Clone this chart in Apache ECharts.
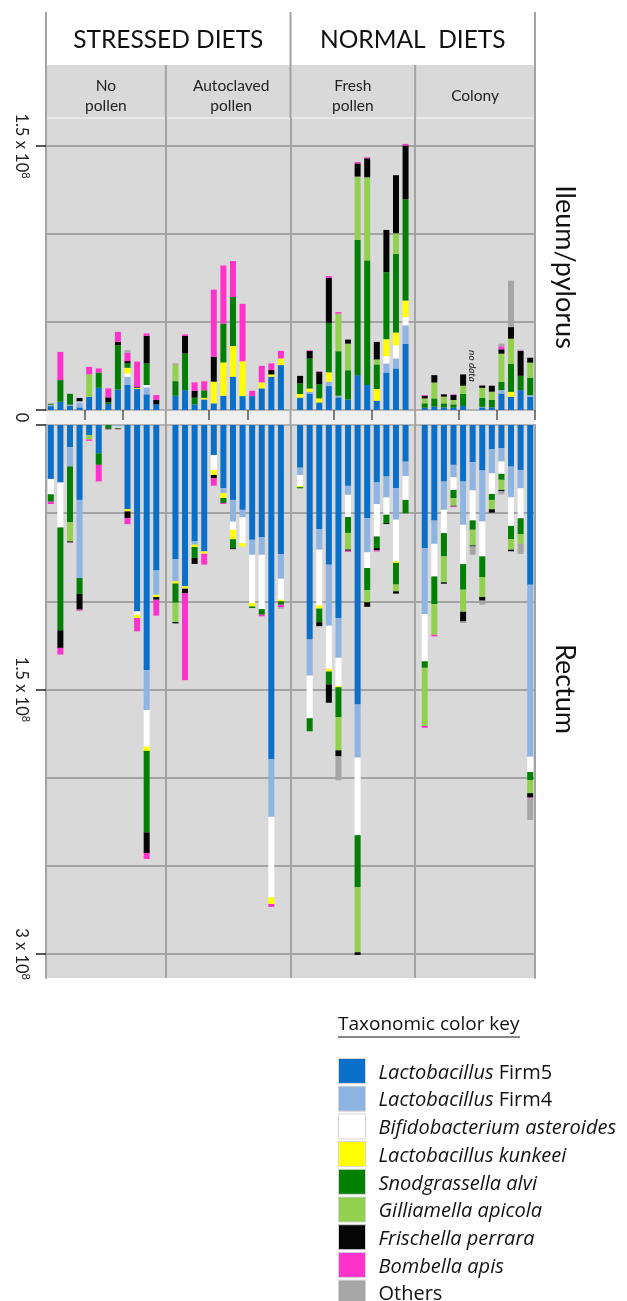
<!DOCTYPE html>
<html><head><meta charset="utf-8">
<script src="https://cdn.jsdelivr.net/npm/echarts@6/dist/echarts.min.js"></script>
<style>html,body{margin:0;padding:0;background:#fff}#c{width:627px;height:1301px}</style>
</head><body><div id="c"></div>
<script>
// ---------------- DATA (units: 10^6 cells) ----------------
const groups = ['No pollen', 'Autoclaved pollen', 'Fresh pollen', 'Colony'];
const groupLabels = ['No\npollen', 'Autoclaved\npollen', 'Fresh\npollen', 'Colony'];
const dietLabels = ['STRESSED DIETS', 'NORMAL  DIETS'];
const beesPerGroup = 12;
const taxa = ['Lactobacillus Firm5', 'Lactobacillus Firm4', 'Bifidobacterium asteroides', 'Lactobacillus kunkeei',
  'Snodgrassella alvi', 'Gilliamella apicola', 'Frischella perrara', 'Bombella apis', 'Others'];
const taxaItalic = ['Lactobacillus', 'Lactobacillus', 'Bifidobacterium asteroides', 'Lactobacillus kunkeei',
  'Snodgrassella alvi', 'Gilliamella apicola', 'Frischella perrara', 'Bombella apis', ''];
const taxaColors = ['#0a6fc8', '#8db4e2', '#ffffff', '#ffff00', '#037f03', '#92d050', '#050505', '#ff33cc', '#a6a6a6'];

// Ileum / pylorus (48 bees: 12 per group)
const ileumFirm5 = [2.2,4.7,2.5,1.5,7.5,12.6,3.4,11.7,14.2,12,8.9,3.2, 8.1,11.3,3.2,6,3.8,8.1,18.9,7.9,7.9,12.3,18.9,25.5, 7,9.4,4.3,13.6,7.2,6,19.8,14.2,5.3,21.3,23.6,37.7, 1.3,1.9,1.5,1.3,2.3,null,1.5,1.5,9.4,7.5,11.3,7.5];
const ileumFirm4 = [0.8,0,0.5,2.8,0,0,0,0,4.7,0,4,0, 0,0,0,0,0,0,0,0,0,0,0,0, 0,0.9,0,2.5,0.9,0,0,0,0,5.1,5.7,10.4, 0,0,0,0,0,null,0.3,0,1.9,0,0,0.9];
const ileumBifido = [0,0,0,0.6,0,0,0,0,1.9,0,1.3,0, 0,0,0,0,0,0,0,0,0,0,0,0, 0,0,0,0,0,0,0,0,0,4.2,7.5,4.7, 0,0,0,0,0,null,0,0,0,0,0,0];
const ileumKunkeei = [0,0,0,0,0,0,0,0,3.2,0.6,0,0, 0,0,0,0.9,12.3,18.9,17.4,19.8,0,3.4,1.3,3.8, 2.1,1.9,2.3,5.3,0,0,0,0,6.6,9.6,7.2,9.4, 0,0,0,0,0,null,0,0,0,2.8,0,0];
const ileumSnod = [0.5,12.3,6.2,0,0,8.7,1,25.1,2.5,0,12.3,0, 8.3,20.8,3.8,4.3,0,22.1,27.9,0,0,0,0,0, 6,17,8.1,28.1,25.3,16.6,76.8,70.8,14,38.1,44.7,57.5, 2.5,4.7,2.3,1.9,6.8,null,5.1,4.2,4.7,16,8.1,10];
const ileumGilli = [0,0,0,0,12.8,0,0,0,0,0,0,0, 9.6,0,0,0,0,0,0,0,0,0,0,0, 0,0,0,0,21.3,15.1,36,47.2,2.8,0,11.7,0, 2.8,9,3.8,2.5,4.7,null,5.7,4.7,16,14.2,0,8.5];
const ileumFrisch = [0,0,0,1.9,0,0,2.8,1.9,1.3,0.4,15.7,2.5, 0,10,4,0,14.2,0,0,0,0,0,2.5,0, 4.3,4.3,7,25.7,0,2.3,7.5,10.8,10,24,33,30.6, 1.5,4.2,1.3,2.8,6.4,null,1.3,3.4,2.5,6.6,14.2,2.8];
const ileumBombella = [0,16,0,0,4.2,2.3,5.1,5.7,4.7,14.5,1.3,2.8, 0.3,0.9,4.7,5.1,38.1,33,20.4,32.6,3,9.4,3.8,4.3, 0,0.4,0.4,0.9,0.9,0,0.8,0.6,0,0,0,0.9, 0.4,0,0,0.4,0,null,0,0,1.7,0,0.3,0];
const ileumOthers = [0.4,0,0,0,0,0,0,0,1.5,0,0,0, 0.3,0,0,0,0,0,0,0,0,0,0,0, 0,0,0,0,0,0,0,0,0,0,0,0, 0,0,0,0,0,null,0,0,1.5,26.4,0.3,0];

// Rectum
const rectumFirm5 = [30.6,32.6,12.6,42.5,5.7,16,0,0,47.7,105.7,139,82.5, 76,91.5,66,71.7,17,35.8,42.5,48.1,65.1,63.6,189.6,73.2, 24.2,121.7,59,79.2,109.4,34.5,158.5,52.8,32.6,29.2,35.8,20.8, 69.8,54.2,32.1,22.6,32.1,21.1,25.8,13.8,13.2,23.6,25.5,90.6];
const rectumFirm4 = [0,0,10.9,44.3,0,0,0,1,0,0,22.6,13.8, 12.6,0,1.9,0,0,2.8,12.3,4.2,8.5,10,32.6,14, 4.2,20.4,11.7,34.6,22.6,5.1,30.1,19.4,12.3,11.9,17.9,8.1, 37.4,13.2,16,7,24.5,16,28.9,13.6,7.5,17.4,10.4,97.5];
const rectumBifido = [8.7,25.5,0,0,0,0,0,0.6,0,1.9,20.9,0, 0,0,0,0,8.5,0,4.7,14.7,27.4,30.8,45.7,11.9, 6.2,24.2,31.7,24.5,16.1,12.6,44,8.9,18.3,9.8,23.6,13.6, 26.8,18.5,13.2,7.2,22.3,17,19.8,11.7,7,16.2,17,8.7];
const rectumKunkeei = [0,0,0,0,0,0,0,0,1.3,1.9,2.3,1.3, 1.3,1.3,1.3,1.3,2.8,2.8,5.3,1.9,1.9,0,3.7,0.9, 0.6,0,1.7,1.5,0.6,0,0,0,0,0,0.9,0, 0,0,0,0,0,0,0,0,0,0,0,0];
const rectumSnod = [4.2,58.3,31.7,9,0,6.6,2,0.6,0,0,46.2,0, 10.9,0,6.2,0,0,2.8,5.1,0,0.9,3.2,0,1.9, 0.7,7.4,7.7,7.3,17,9,29.6,12.6,6.6,4.7,12.3,7.5, 3.7,15.7,13.2,4.7,14.5,5.3,11.7,3.4,3.4,7.5,9,4.5];
const rectumGilli = [0,0,10.8,0,2.5,0,0,0,0,0,0,0, 10.9,0,0,0,0,0,0,0,0,0,0,0, 0,0,0,0,18.8,9.4,36.8,6.8,0,0,3.8,0, 33,17.4,14.7,4.3,12.5,8.9,11.3,5.3,5.7,6,5.5,7.5];
const rectumFrisch = [0,10,0.6,8.9,0,0,0.4,0,3.8,0,11.7,1.5, 0.8,2.5,3.4,0,1.9,0,0.5,0,0,0,0,0, 0,0,2.3,10.4,3.4,0.7,1.5,2.6,1.3,0.6,1.3,0, 0,0,0.8,0.4,5.5,0.6,2.1,1.9,0.8,0.9,0,2.5];
const rectumBombella = [1.3,3.8,0,0.6,0.8,9.4,0,0.3,3.4,7.5,3.4,9, 0,49.4,0,6.2,4.2,0.6,0,0,0,0.9,1.7,1.5, 0,0,0,0,0,0.6,0,0,0.6,0,0,0, 1,0.9,0,0.4,0,0,0,0,0,0,0,0.5];
const rectumOthers = [0,0,0,0,0,0,0,0,0,0,0,0, 0,0,0,0,0,0,0,0,0,0,0,0.8, 0,0,0,0,13.6,0,0,0,0,0,0,0, 0,0,0,0,0.9,4.7,2.3,0,1.7,0,5.7,12.2];

const noDataBee = 'Colony 6';
const noDataLevel = 25;
const ileumTickValues = [0, 150];
const ileumLabelValues = [150];
const rectumTickValues = [0, 150, 300];
const rectumLabelValues = [0, 150, 300];
const tickLabelText = {0: '{z|0}', 150: '{n|1.5 x 10}{s|8}', 300: '{n|3 x 10}{s|8}'};

// ---------------- BUILD ----------------
const ileum = [ileumFirm5, ileumFirm4, ileumBifido, ileumKunkeei, ileumSnod, ileumGilli, ileumFrisch, ileumBombella, ileumOthers];
const rectum = [rectumFirm5, rectumFirm4, rectumBifido, rectumKunkeei, rectumSnod, rectumGilli, rectumFrisch, rectumBombella, rectumOthers];

const categories = [];
const gapNames = [];
groups.forEach((g, gi) => {
  for (let i = 1; i <= beesPerGroup; i++) categories.push(g + ' ' + i);
  if (gi < groups.length - 1) { const n = 'gap' + (gi + 1); gapNames.push(n); categories.push(n); }
});
function withGaps(arr) {
  const out = [];
  arr.forEach((v, i) => { if (i > 0 && i % beesPerGroup === 0) out.push(null); out.push(v); });
  return out;
}
const stripTicks = [];
groups.forEach((g, gi) => { const s = gi * (beesPerGroup + 1); stripTicks.push(s + 4, s + 8); });

const FONT = 'Lato, "Open Sans", sans-serif';
const LFONT = '"Open Sans", Lato, sans-serif';
const GL = 46, GR = 535, T1 = 118, Z1 = 410, T2 = 425, B2 = 978;
const GRID_LINE = '#a3a3a3';

const series = [];
taxa.forEach((name, k) => {
  const common = { name, type: 'bar', barWidth: 6, itemStyle: { color: taxaColors[k] },
    emphasis: { disabled: true }, animation: false, silent: true };
  const s1 = Object.assign({}, common, { stack: 'ileum', xAxisIndex: 0, yAxisIndex: 0, data: withGaps(ileum[k]) });
  const s2 = Object.assign({}, common, { stack: 'rectum', xAxisIndex: 1, yAxisIndex: 2, data: withGaps(rectum[k]) });
  if (k === 0) {
    const ml = { silent: true, symbol: ['none', 'none'], label: { show: false }, animation: false,
      lineStyle: { color: GRID_LINE, width: 2, type: 'solid' }, data: gapNames.map(n => ({ xAxis: n })) };
    s1.markLine = ml; s2.markLine = ml;
    s1.markPoint = { symbol: 'circle', symbolSize: 1, itemStyle: { color: 'rgba(0,0,0,0)' }, animation: false,
      data: [{ coord: [noDataBee, noDataLevel], label: { show: true, formatter: 'no data', rotate: -90,
        fontStyle: 'italic', fontSize: 10, color: '#222', fontFamily: FONT } }] };
  }
  series.push(s1, s2);
});

const rich = {
  n: { fontSize: 16.5, fontFamily: FONT, color: '#222', lineHeight: 19 },
  s: { fontSize: 11, fontFamily: FONT, color: '#222', verticalAlign: 'top', lineHeight: 11 },
  z: { fontSize: 16.5, fontFamily: FONT, color: '#222', lineHeight: 19, padding: [0, 15, 0, 0] }
};

function yAxisLeft(grid, max, inverse, ticks, labels) {
  return {
    type: 'value', gridIndex: grid, min: 0, max, interval: 50, inverse,
    axisLine: { show: true, lineStyle: { color: GRID_LINE, width: 2 } },
    axisTick: { show: true, customValues: ticks, length: 10, lineStyle: { color: '#222', width: 1.5 } },
    axisLabel: { show: true, customValues: labels, rotate: -90, margin: 15, formatter: v => tickLabelText[v] || '', rich },
    splitLine: { show: false }
  };
}
function yAxisRight(grid, max, inverse) {
  return { type: 'value', gridIndex: grid, position: 'right', min: 0, max, interval: 50, inverse,
    axisLine: { show: true, lineStyle: { color: GRID_LINE, width: 2 } },
    axisTick: { show: false }, axisLabel: { show: false },
    splitLine: { show: true, showMinLine: false, showMaxLine: false, lineStyle: { color: GRID_LINE, width: 2 } } };
}

const legendRich = {
  i: { fontStyle: 'italic', fontSize: 20, fontFamily: LFONT, color: '#111', lineHeight: 18 },
  n: { fontSize: 20, fontFamily: LFONT, color: '#111', lineHeight: 18 }
};

const option = {
  animation: false,
  backgroundColor: '#ffffff',
  grid: [
    { left: GL, top: T1, width: GR - GL, height: Z1 - T1, show: true, backgroundColor: '#d9d9d9', borderWidth: 0 },
    { left: GL, top: T2, width: GR - GL, height: B2 - T2, show: true, backgroundColor: '#d9d9d9', borderWidth: 0 }
  ],
  xAxis: [
    { type: 'category', gridIndex: 0, data: categories, position: 'bottom',
      axisLine: { show: true, lineStyle: { color: GRID_LINE, width: 1.5 } },
      axisTick: { show: true, interval: (i) => stripTicks.includes(i), length: 10, inside: false, lineStyle: { color: '#555', width: 1.5 } },
      axisLabel: { show: false }, splitLine: { show: false } },
    { type: 'category', gridIndex: 1, data: categories, position: 'top',
      axisLine: { show: true, lineStyle: { color: GRID_LINE, width: 1.5 } },
      axisTick: { show: false }, axisLabel: { show: false }, splitLine: { show: false } }
  ],
  yAxis: [
    yAxisLeft(0, 165.9, false, ileumTickValues, ileumLabelValues),
    yAxisRight(0, 165.9, false),
    yAxisLeft(1, 313.6, true, rectumTickValues, rectumLabelValues),
    yAxisRight(1, 313.6, true)
  ],
  legend: {
    data: taxa, orient: 'vertical', left: 338, top: 1058, height: 400, padding: 0,
    itemWidth: 27, itemHeight: 25, itemGap: 1.7, icon: 'rect', selectedMode: false,
    itemStyle: { borderColor: '#d4d4d4', borderWidth: 1 },
    formatter: name => {
      const k = taxa.indexOf(name); const it = taxaItalic[k];
      if (!it) return '{n|' + name + '}';
      const rest = name.slice(it.length);
      return '{i|' + it + '}' + (rest ? '{n|' + rest + '}' : '');
    },
    textStyle: { fontFamily: LFONT, fontSize: 20, color: '#111', padding: [4, 0, 0, 8], rich: legendRich }
  },
  series
};

const chart = echarts.init(document.getElementById('c'), null, { renderer: 'canvas' });
chart.setOption(option);

// ---------------- HEADER & DECORATIONS ----------------
const gx = gapNames.map(n => chart.convertToPixel({ xAxisIndex: 0 }, n));
const bounds = [GL, gx[0], gx[1], gx[2], GR];
const HT = 12, HB = 65;
const g = [];
g.push({ type: 'rect', z: -10, shape: { x: GL, y: Z1, width: GR - GL, height: T2 - Z1 }, style: { fill: '#efefef' } });
g.push({ type: 'rect', z: -10, shape: { x: GL, y: HB, width: GR - GL, height: T1 - HB }, style: { fill: '#d9d9d9' } });
g.push({ type: 'line', shape: { x1: GL, y1: T1, x2: GR, y2: T1 }, style: { stroke: '#ececec', lineWidth: 1.5 } });
[GL, bounds[2], GR].forEach(x => g.push({ type: 'line', shape: { x1: x, y1: HT, x2: x, y2: T1 }, style: { stroke: GRID_LINE, lineWidth: 2 } }));
[bounds[1], bounds[3]].forEach(x => g.push({ type: 'line', shape: { x1: x, y1: HB, x2: x, y2: T1 }, style: { stroke: GRID_LINE, lineWidth: 2 } }));
[bounds[1], bounds[2], bounds[3]].forEach(x => g.push({ type: 'line', shape: { x1: x, y1: Z1, x2: x, y2: T2 }, style: { stroke: GRID_LINE, lineWidth: 2 } }));
dietLabels.forEach((t, i) => g.push({ type: 'text', x: (bounds[i * 2] + bounds[i * 2 + 2]) / 2, y: (HT + HB) / 2 + 2,
  style: { text: t, font: '24.5px ' + FONT, fill: '#111', textAlign: 'center', textVerticalAlign: 'middle' } }));
groupLabels.forEach((t, i) => g.push({ type: 'text', x: (bounds[i] + bounds[i + 1]) / 2 + (i === 1 ? 3 : 0), y: (HB + T1) / 2 + 4,
  style: { text: t, font: '15.5px ' + FONT, fill: '#222', textAlign: 'center', textVerticalAlign: 'middle', lineHeight: 20 } }));
g.push({ type: 'text', x: 565, y: (T1 + Z1) / 2 + 3, rotation: -Math.PI / 2,
  style: { text: 'Ileum/pylorus', font: '27px ' + FONT, fill: '#111', textAlign: 'center', textVerticalAlign: 'middle' } });
g.push({ type: 'text', x: 565, y: 689, rotation: -Math.PI / 2,
  style: { text: 'Rectum', font: '27px ' + FONT, fill: '#111', textAlign: 'center', textVerticalAlign: 'middle' } });
g.push({ type: 'text', x: 338, y: 1025, style: { text: 'Taxonomic color key', font: '19px ' + LFONT, fill: '#111', textAlign: 'left', textVerticalAlign: 'middle' } });
g.push({ type: 'line', shape: { x1: 338, y1: 1037, x2: 520, y2: 1037 }, style: { stroke: '#111', lineWidth: 1.2 } });
chart.setOption({ graphic: g });
</script></body></html>
